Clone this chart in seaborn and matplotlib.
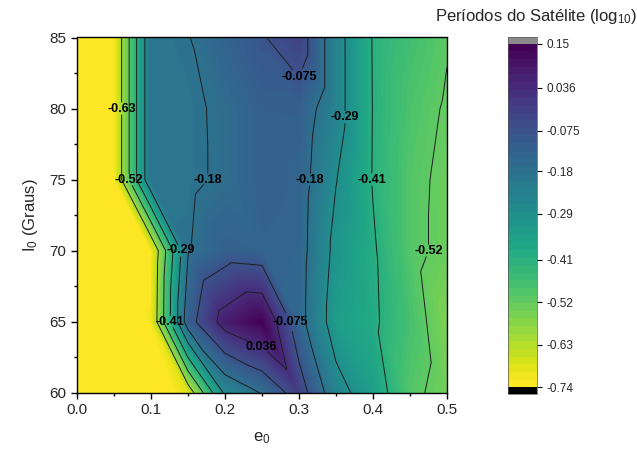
import numpy as np
import matplotlib
matplotlib.use("Agg")
import matplotlib.pyplot as plt
import matplotlib.tri as mtri
from matplotlib.colors import BoundaryNorm
from matplotlib.cm import ScalarMappable
from matplotlib.ticker import MultipleLocator
import seaborn as sns

# simulation grid
e0_values = [0.00, 0.05, 0.10, 0.15, 0.20, 0.25, 0.30, 0.35, 0.40, 0.45, 0.50]
i0_values = [60, 65, 70, 75, 80, 85]

# log10 of the satellite period, one list per inclination
period_i60 = [-0.85, -0.80, -0.80, -0.70, -0.27, -0.175, -0.020, -0.250, -0.350, -0.500, -0.550]
period_i65 = [-0.85, -0.78, -0.727, -0.119, 0.079, 0.150, -0.146, -0.341, -0.395, -0.480, -0.569]
period_i70 = [-0.85, -0.76, -0.740, -0.185, -0.120, -0.133, -0.141, -0.318, -0.400, -0.500, -0.540]
period_i75 = [-0.85, -0.742, -0.200, -0.195, -0.167, -0.120, -0.134, -0.287, -0.415, -0.500, -0.537]
period_i80 = [-0.85, -0.742, -0.200, -0.195, -0.165, -0.120, -0.118, -0.250, -0.413, -0.490, -0.527]
period_i85 = [-0.85, -0.742, -0.200, -0.183, -0.130, -0.083, -0.020, -0.250, -0.415, -0.470, -0.515]

cbar_ticks = [-0.74, -0.63, -0.52, -0.41, -0.29, -0.18, -0.075, 0.036, 0.15]
cbar_labels = ["-0.74", "-0.63", "-0.52", "-0.41", "-0.29", "-0.18", "-0.075", "0.036", "0.15"]

# where the contour labels sit (e0, I0)
label_spots = [(0.061, 80.0), (0.071, 75.0), (0.177, 75.0), (0.301, 81.7),
               (0.355, 79.4), (0.315, 75.0), (0.399, 75.0), (0.139, 70.0),
               (0.48, 70.0), (0.126, 65.0), (0.288, 65.0), (0.25, 63.4)]

sns.set_style("ticks")
plt.rcParams["font.family"] = ["Liberation Sans", "DejaVu Sans"]
plt.rcParams["mathtext.default"] = "regular"
plt.rcParams["axes.unicode_minus"] = False

z = np.array([period_i60, period_i65, period_i70, period_i75, period_i80, period_i85])
xg, yg = np.meshgrid(e0_values, i0_values)

# triangulate the grid with top-left -> bottom-right diagonals
nx = len(e0_values)
triangles = []
for j in range(len(i0_values) - 1):
    for i in range(nx - 1):
        bl = j * nx + i
        br = bl + 1
        tl = bl + nx
        tr = tl + 1
        triangles.append([tl, tr, br])
        triangles.append([tl, bl, br])
tri = mtri.Triangulation(xg.ravel(), yg.ravel(), triangles)

cmap = sns.color_palette("viridis_r", as_cmap=True)
fill_levels = np.linspace(cbar_ticks[0], cbar_ticks[-1], 90)
bar_levels = np.linspace(cbar_ticks[0], cbar_ticks[-1], 46)
line_levels = cbar_ticks[1:-1]

fig = plt.figure(figsize=(6.37, 4.5), dpi=100)
ax = fig.add_axes([77 / 637, 1 - 393 / 450, 370 / 637, 355.5 / 450])

ax.tricontourf(tri, z.ravel(), levels=fill_levels, cmap=cmap, extend="both")
cs = ax.tricontour(tri, z.ravel(), levels=line_levels, colors="#1e1e1e",
                   linewidths=0.7, linestyles="solid")
fmt = {lev: lab for lev, lab in zip(cbar_ticks, cbar_labels)}
texts = ax.clabel(cs, manual=label_spots, fmt=fmt, fontsize=9, inline=True,
                  inline_spacing=-8, colors="black")
for t in texts:
    t.set_rotation(0)
    t.set_fontweight("bold")

ax.set_xlim(0, 0.5)
ax.set_ylim(60, 85)
ax.xaxis.set_major_locator(MultipleLocator(0.1))
ax.xaxis.set_minor_locator(MultipleLocator(0.05))
ax.yaxis.set_major_locator(MultipleLocator(5))
ax.yaxis.set_minor_locator(MultipleLocator(2.5))
ax.tick_params(which="major", direction="out", length=4, width=1, labelsize=11, color="black")
ax.tick_params(which="minor", direction="out", length=2.5, width=1, color="black")
for sp in ax.spines.values():
    sp.set_color("black")
    sp.set_linewidth(1)
ax.set_xlabel("e$_0$", fontsize=12, labelpad=9)
ax.set_ylabel("I$_0$ (Graus)", fontsize=12, labelpad=7)

# colour bar with black / grey end caps
bar_cmap = cmap.copy()
bar_cmap.set_under("black")
bar_cmap.set_over("#8a8a8a")
sm = ScalarMappable(norm=BoundaryNorm(bar_levels, bar_cmap.N), cmap=bar_cmap)
cax = fig.add_axes([508 / 637, 1 - 394 / 450, 29 / 637, 357 / 450])
cb = fig.colorbar(sm, cax=cax, extend="both", extendrect=True, extendfrac=0.02,
                  ticks=cbar_ticks, drawedges=False)
cb.ax.set_yticklabels(cbar_labels)
cb.ax.tick_params(labelsize=8.5, length=3.5, width=0.8, direction="out", color="black")
cb.ax.minorticks_off()
cb.outline.set_linewidth(0.5)
cb.outline.set_edgecolor("#555555")

fig.text(0.842, 1 - 17 / 450, "Períodos do Satélite (log$_{10}$)", ha="center", va="center",
         fontsize=12)

fig.savefig("out.png", dpi=100)
